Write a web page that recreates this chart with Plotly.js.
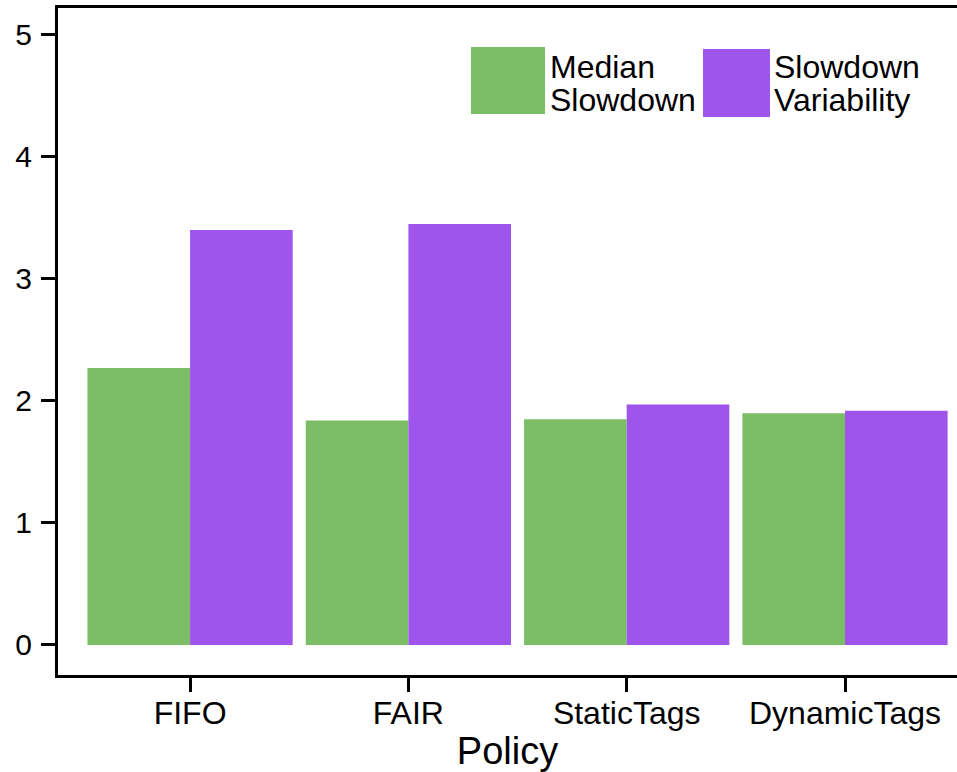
<!DOCTYPE html>
<html>
<head>
<meta charset="utf-8">
<script src="https://cdn.plot.ly/plotly-3.0.1.min.js"></script>
<style>html,body{margin:0;padding:0;background:#fff;}#chart{width:957px;height:772px;}</style>
</head>
<body>
<div id="chart"></div>
<script>
const policies = ["FIFO", "FAIR", "StaticTags", "DynamicTags"];
const medianSlowdown = [2.27, 1.84, 1.85, 1.90];
const slowdownVariability = [3.40, 3.45, 1.97, 1.92];
const seriesNames = ["Median Slowdown", "Slowdown Variability"];
const yTicks = [0, 1, 2, 3, 4, 5];

const W = 957, H = 772;
const L = 58, R = 0, T = 8, B = 97;
const pw = W - L - R, ph = H - T - B;
const px = x => (x - L) / pw;
const py = y => 1 - (y - T) / ph;

const FONT = "Liberation Sans, Arial, Helvetica, sans-serif";
const GREEN = "#7cbe66";
const PURPLE = "#9f54eb";

const traces = [
  {type: "bar", x: policies, y: medianSlowdown, name: seriesNames[0],
   marker: {color: GREEN, line: {width: 0}}, showlegend: false, hoverinfo: "x+y"},
  {type: "bar", x: policies, y: slowdownVariability, name: seriesNames[1],
   marker: {color: PURPLE, line: {width: 0}}, showlegend: false, hoverinfo: "x+y"}
];

const layout = {
  width: W, height: H,
  margin: {l: L, r: R, t: T, b: B, pad: 0},
  paper_bgcolor: "#fff", plot_bgcolor: "#fff",
  barmode: "group", bargap: 0.06, bargroupgap: 0,
  showlegend: false,
  font: {family: FONT, color: "#000"},
  xaxis: {
    type: "category", categoryarray: policies,
    range: [-0.605, 3.513], showgrid: false, zeroline: false,
    showline: true, linecolor: "#000", linewidth: 3, mirror: true,
    ticks: "outside", ticklen: 14, tickwidth: 3, tickcolor: "#000",
    tickfont: {size: 32, family: FONT, color: "#000"},
    ticklabelstandoff: -6,
    title: {text: "Policy", font: {size: 38, family: FONT, color: "#000"}, standoff: 2}
  },
  yaxis: {
    range: [-0.246, 5.22], showgrid: false, zeroline: false,
    showline: true, linecolor: "#000", linewidth: 3,
    ticks: "outside", ticklen: 14, tickwidth: 3, tickcolor: "#000",
    tickvals: yTicks, ticktext: yTicks.map(String),
    tickfont: {size: 30, family: FONT, color: "#000"},
    ticklabelstandoff: 3
  },
  shapes: [
    {type: "rect", xref: "paper", yref: "paper", x0: px(471), x1: px(545), y0: py(114), y1: py(47),
     fillcolor: GREEN, line: {width: 0}},
    {type: "rect", xref: "paper", yref: "paper", x0: px(703), x1: px(770), y0: py(117), y1: py(49),
     fillcolor: PURPLE, line: {width: 0}}
  ],
  annotations: [
    {xref: "paper", yref: "paper", x: px(548), y: py(67), xanchor: "left", yanchor: "middle",
     text: "Median", showarrow: false, font: {size: 32, family: FONT, color: "#000"}},
    {xref: "paper", yref: "paper", x: px(548), y: py(100), xanchor: "left", yanchor: "middle",
     text: "Slowdown", showarrow: false, font: {size: 32, family: FONT, color: "#000"}},
    {xref: "paper", yref: "paper", x: px(772), y: py(67), xanchor: "left", yanchor: "middle",
     text: "Slowdown", showarrow: false, font: {size: 32, family: FONT, color: "#000"}},
    {xref: "paper", yref: "paper", x: px(772), y: py(100), xanchor: "left", yanchor: "middle",
     text: "Variability", showarrow: false, font: {size: 32, family: FONT, color: "#000"}}
  ]
};

Plotly.newPlot("chart", traces, layout, {displayModeBar: false, staticPlot: true});
</script>
</body>
</html>
